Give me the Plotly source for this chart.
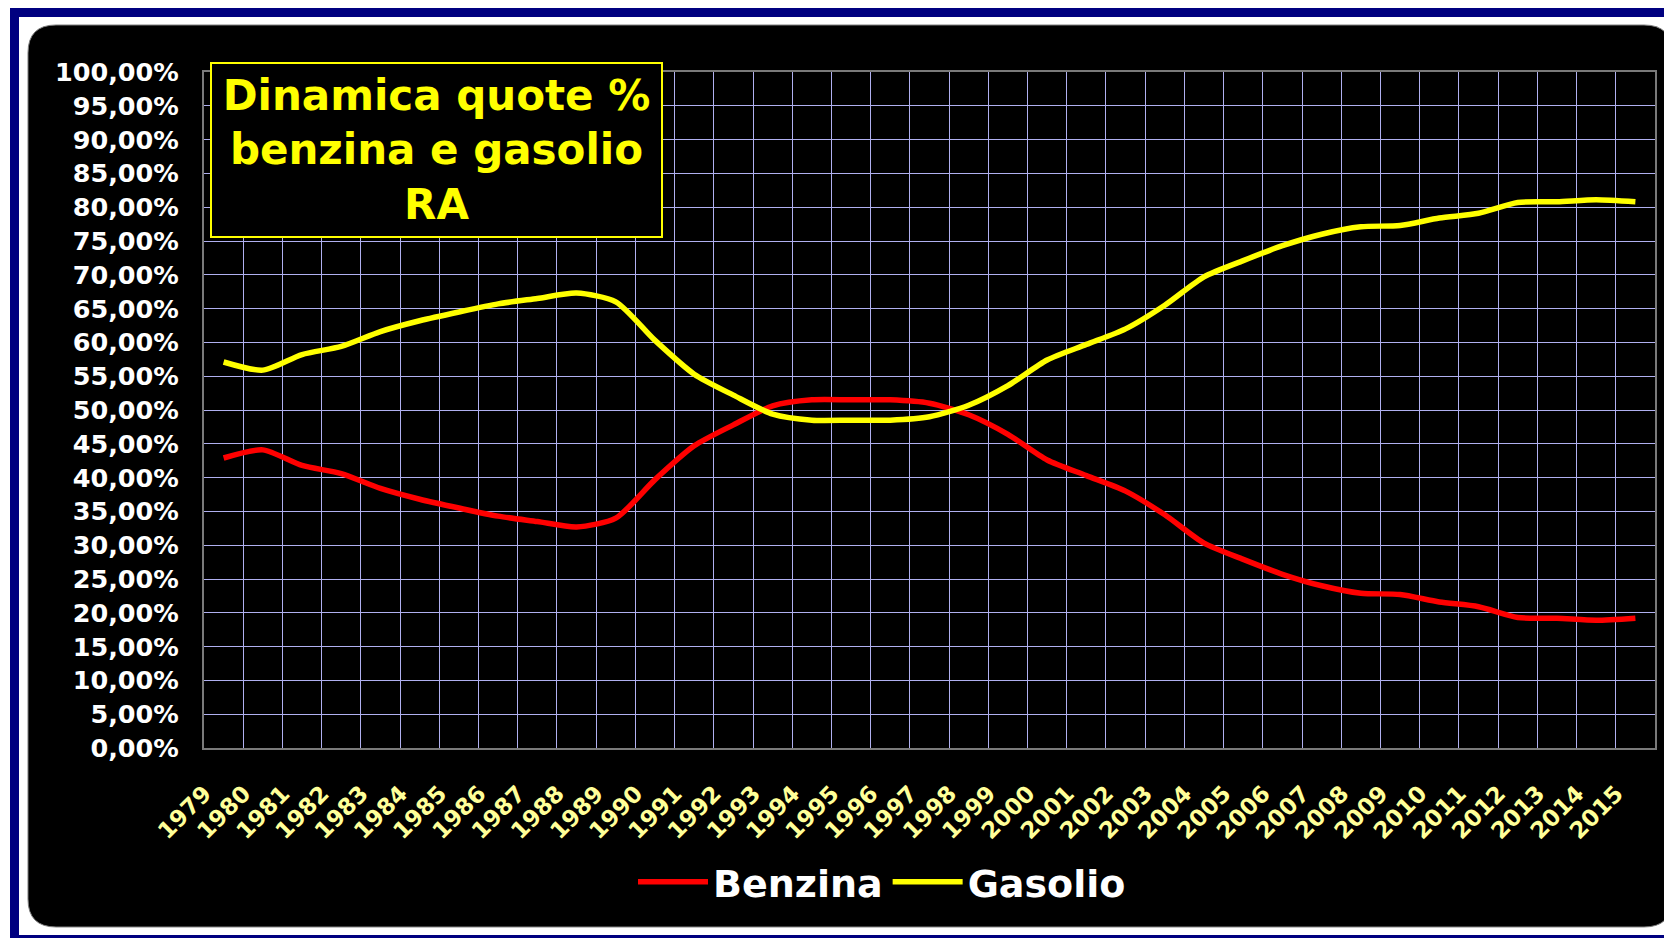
import plotly.graph_objects as go

years = [str(y) for y in range(1979, 2016)]

benzina = [42.9, 44.1, 41.8, 40.6, 38.4, 36.8, 35.5, 34.3, 33.5, 32.7,
           34.0, 39.7, 44.7, 47.8, 50.6, 51.5, 51.5, 51.5, 51.0, 49.3,
           46.4, 42.6, 40.3, 38.0, 34.5, 30.3, 27.9, 25.7, 24.0, 22.9,
           22.7, 21.6, 20.9, 19.3, 19.2, 18.9, 19.2]

gasolio = [57.1, 55.9, 58.2, 59.4, 61.6, 63.2, 64.5, 65.7, 66.5, 67.3,
           66.0, 60.3, 55.3, 52.2, 49.4, 48.5, 48.5, 48.5, 49.0, 50.7,
           53.6, 57.4, 59.7, 62.0, 65.5, 69.7, 72.1, 74.3, 76.0, 77.1,
           77.3, 78.4, 79.1, 80.7, 80.8, 81.1, 80.8]

FONT = "Verdana, DejaVu Sans, sans-serif"
OFF = 8  # page body margin
W, H = 1672 - OFF, 938 - OFF
ML, MR, MT, MB = 204 - OFF, 17, 72 - OFF, 190


# screen pixel (in the 1672x938 picture) -> paper coordinates
def px_x(x):
    return (x - OFF - ML) / (W - ML - MR)


def px_y(y):
    return (H - MB - (y - OFF)) / (H - MT - MB)


def rounded_rect(x0, y0, x1, y1, r):
    pts = [
        ("M", [(x0 + r, y0)]), ("L", [(x1 - r, y0)]), ("Q", [(x1, y0), (x1, y0 + r)]),
        ("L", [(x1, y1 - r)]), ("Q", [(x1, y1), (x1 - r, y1)]),
        ("L", [(x0 + r, y1)]), ("Q", [(x0, y1), (x0, y1 - r)]),
        ("L", [(x0, y0 + r)]), ("Q", [(x0, y0), (x0 + r, y0)]),
    ]
    out = ""
    for cmd, coords in pts:
        out += cmd + " ".join("%.5f,%.5f" % (px_x(a), px_y(b)) for a, b in coords) + " "
    return out + "Z"


fig = go.Figure()

fig.add_trace(go.Scatter(
    x=years, y=benzina, name="Benzina", mode="lines",
    line=dict(color="#FF0000", width=5.5, shape="spline", smoothing=0.7),
))
fig.add_trace(go.Scatter(
    x=years, y=gasolio, name="Gasolio", mode="lines",
    line=dict(color="#FFFF00", width=5.5, shape="spline", smoothing=0.7),
))

shapes = [
    # navy frame
    dict(type="rect", xref="paper", yref="paper", layer="below",
         x0=px_x(10), x1=px_x(1680), y0=px_y(8), y1=px_y(17),
         fillcolor="#000080", line=dict(width=0)),
    dict(type="rect", xref="paper", yref="paper", layer="below",
         x0=px_x(10), x1=px_x(19), y0=px_y(8), y1=px_y(945),
         fillcolor="#000080", line=dict(width=0)),
    dict(type="rect", xref="paper", yref="paper", layer="below",
         x0=px_x(10), x1=px_x(1680), y0=px_y(935), y1=px_y(945),
         fillcolor="#000080", line=dict(width=0)),
    # black rounded panel
    dict(type="path", xref="paper", yref="paper", layer="below",
         path=rounded_rect(28, 25, 1672, 927, 28),
         fillcolor="#000000", line=dict(color="#808080", width=1)),
]

fig.update_layout(
    width=W, height=H,
    paper_bgcolor="#FFFFFF",
    plot_bgcolor="#000000",
    separators=",.",
    margin=dict(l=ML, r=MR, t=MT, b=MB, pad=0),
    font=dict(family=FONT, color="#FFFFFF"),
    shapes=shapes,
    xaxis=dict(
        type="category", range=[-0.5, 36.5], tickson="boundaries",
        showgrid=True, gridcolor="#B0B0F0", gridwidth=1,
        showline=True, mirror=True, linecolor="#7A7A7A", linewidth=2,
        ticks="", tickangle=-45,
        tickfont=dict(family=FONT, size=23, color="#FFFF99", weight="bold"),
        ticklabelstandoff=21, ticklabelshift=-19,
        zeroline=False,
    ),
    yaxis=dict(
        range=[0, 100], dtick=5, tickformat=".2f", ticksuffix="%",
        showgrid=True, gridcolor="#B0B0F0", gridwidth=1,
        showline=True, mirror=True, linecolor="#7A7A7A", linewidth=2,
        ticks="", ticklabelstandoff=18,
        tickfont=dict(family=FONT, size=25.5, color="#FFFFFF", weight="bold"),
        zeroline=False,
    ),
    legend=dict(
        orientation="h", x=px_x(882), xanchor="center", y=px_y(882), yanchor="middle",
        font=dict(family=FONT, size=38, color="#FFFFFF", weight="bold"),
        bgcolor="rgba(0,0,0,0)", itemwidth=70,
    ),
    annotations=[dict(
        xref="paper", yref="paper",
        x=px_x(436.5), y=px_y(150), xanchor="center", yanchor="middle",
        text="Dinamica quote %<br>benzina e gasolio<br>RA",
        showarrow=False, align="center",
        width=447, height=170,
        bgcolor="#000000", bordercolor="#FFFF00", borderwidth=2, borderpad=1,
        font=dict(family=FONT, size=42, color="#FFFF00", weight="bold"),
    )],
)

fig.write_html("out.html")
